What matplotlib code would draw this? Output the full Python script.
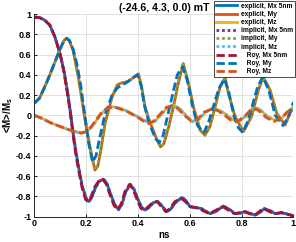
import matplotlib
matplotlib.use("Agg")
import matplotlib.pyplot as plt

plt.rcParams['font.family'] = ['Liberation Sans', 'DejaVu Sans']
plt.rcParams['font.weight'] = 'bold'
plt.rcParams['axes.unicode_minus'] = False

# explicit / implicit solver (curves overlap)
t_mx = [0, 0.02, 0.04, 0.06, 0.08, 0.1, 0.115, 0.13, 0.14, 0.15, 0.16, 0.17, 0.185, 0.2, 0.21,
        0.22, 0.235, 0.25, 0.267, 0.28, 0.295, 0.31, 0.325, 0.338, 0.352, 0.37, 0.385, 0.4,
        0.415, 0.428, 0.442, 0.46, 0.477, 0.495, 0.51, 0.525, 0.545, 0.57, 0.585, 0.6, 0.625,
        0.645, 0.678, 0.7, 0.73, 0.755, 0.775, 0.795, 0.813, 0.832, 0.852, 0.87, 0.888, 0.91,
        0.93, 0.955, 0.985, 1.0]
mx = [0.97, 0.965, 0.94, 0.89, 0.77, 0.6, 0.43, 0.2, 0.02, -0.18, -0.35, -0.5, -0.7, -0.82, -0.85,
      -0.82, -0.72, -0.65, -0.63, -0.67, -0.78, -0.88, -0.93, -0.88, -0.76, -0.68, -0.73, -0.83,
      -0.91, -0.935, -0.91, -0.86, -0.85, -0.9, -0.95, -0.93, -0.86, -0.81, -0.84, -0.9, -0.91,
      -0.92, -0.97, -0.95, -0.895, -0.93, -0.97, -0.965, -0.95, -0.965, -0.985, -0.96, -0.92, -0.94,
      -0.97, -0.96, -0.98, -0.99]

t_my = [0, 0.02, 0.04, 0.06, 0.08, 0.1, 0.115, 0.125, 0.135, 0.15, 0.17, 0.19, 0.205, 0.22, 0.234,
        0.245, 0.255, 0.273, 0.3, 0.32, 0.337, 0.357, 0.376, 0.402, 0.415, 0.427, 0.44, 0.453,
        0.47, 0.487, 0.5, 0.52, 0.537, 0.556, 0.575, 0.595, 0.614, 0.64, 0.659, 0.678, 0.698,
        0.717, 0.737, 0.749, 0.775, 0.807, 0.839, 0.865, 0.884, 0.91, 0.936, 0.968, 0.987, 1.0]
my = [0.12, 0.17, 0.28, 0.4, 0.53, 0.66, 0.74, 0.76, 0.74, 0.64, 0.38, 0.05, -0.18, -0.38, -0.54,
      -0.5, -0.37, -0.08, 0.18, 0.3, 0.32, 0.33, 0.36, 0.41, 0.27, 0.085, -0.02, -0.11,
      -0.22, -0.31, -0.28, -0.1, 0.085, 0.32, 0.51, 0.32, 0.085, -0.145, -0.195, -0.11, 0.085,
      0.28, 0.37, 0.22, -0.01, -0.16, -0.01, 0.25, 0.38, 0.25, 0.02, -0.095, 0.02, 0.08]

t_mz = [0, 0.03, 0.06, 0.09, 0.12, 0.15, 0.18, 0.2, 0.22, 0.24, 0.26, 0.28, 0.3, 0.325, 0.36,
        0.4, 0.425, 0.445, 0.465, 0.49, 0.515, 0.537, 0.56, 0.585, 0.61, 0.635, 0.66, 0.69,
        0.715, 0.74, 0.765, 0.79, 0.82, 0.846, 0.87, 0.9, 0.93, 0.955, 0.98, 1.0]
mz = [0.0, -0.03, -0.07, -0.1, -0.13, -0.155, -0.175, -0.165, -0.12, -0.05, 0.02, 0.065, 0.085,
      0.075, 0.04, -0.015, -0.05, -0.075, -0.06, 0.01, 0.08, 0.1, 0.07, 0.0, -0.06, -0.04, 0.03,
      0.07, 0.05, 0.01, -0.04, -0.06, 0.0, 0.08, 0.06, -0.01, -0.05, -0.03, 0.04, 0.08]

# Roy solver
t_roy_mx = [0, 0.02, 0.04, 0.06, 0.08, 0.1, 0.115, 0.13, 0.14, 0.15, 0.16, 0.17, 0.185, 0.198,
            0.207, 0.218, 0.232, 0.248, 0.264, 0.278, 0.293, 0.308, 0.322, 0.336, 0.35, 0.368,
            0.383, 0.398, 0.412, 0.426, 0.44, 0.458, 0.475, 0.493, 0.508, 0.523, 0.543, 0.567,
            0.583, 0.598, 0.622, 0.643, 0.675, 0.698, 0.727, 0.752, 0.772, 0.793, 0.81, 0.83,
            0.85, 0.868, 0.885, 0.908, 0.928, 0.953, 0.983, 1.0]
roy_mx = [0.97, 0.965, 0.94, 0.89, 0.77, 0.6, 0.42, 0.18, 0.0, -0.2, -0.38, -0.53, -0.72, -0.83,
          -0.85, -0.81, -0.71, -0.65, -0.63, -0.68, -0.79, -0.89, -0.93, -0.87, -0.75, -0.68,
          -0.74, -0.84, -0.92, -0.935, -0.9, -0.86, -0.85, -0.91, -0.95, -0.92, -0.85, -0.82,
          -0.85, -0.9, -0.91, -0.93, -0.97, -0.94, -0.9, -0.94, -0.97, -0.96, -0.95, -0.97,
          -0.985, -0.95, -0.92, -0.95, -0.97, -0.96, -0.98, -0.99]

t_roy_my = [0, 0.02, 0.04, 0.06, 0.08, 0.1, 0.115, 0.125, 0.135, 0.15, 0.165, 0.18, 0.195, 0.21,
            0.225, 0.238, 0.25, 0.27, 0.3, 0.32, 0.34, 0.36, 0.38, 0.398, 0.412, 0.425, 0.44,
            0.455, 0.468, 0.482, 0.497, 0.515, 0.535, 0.552, 0.572, 0.59, 0.61, 0.63, 0.655,
            0.675, 0.695, 0.712, 0.733, 0.75, 0.77, 0.787, 0.805, 0.825, 0.842, 0.862, 0.882,
            0.905, 0.93, 0.96, 0.98, 1.0]
roy_my = [0.12, 0.17, 0.28, 0.4, 0.53, 0.66, 0.74, 0.76, 0.74, 0.65, 0.5, 0.28, 0.0, -0.28,
          -0.46, -0.4, -0.25, -0.02, 0.2, 0.27, 0.3, 0.33, 0.37, 0.4, 0.3, 0.1, -0.05, -0.15,
          -0.23, -0.27, -0.2, 0.0, 0.22, 0.4, 0.48, 0.35, 0.1, -0.1, -0.17, -0.05, 0.12, 0.26,
          0.36, 0.24, 0.0, -0.12, -0.17, -0.05, 0.1, 0.28, 0.38, 0.25, 0.0, -0.1, -0.02, 0.13]

t_roy_mz = [0, 0.03, 0.06, 0.09, 0.12, 0.15, 0.18, 0.2, 0.22, 0.24, 0.26, 0.28, 0.3, 0.325,
            0.36, 0.4, 0.42, 0.44, 0.46, 0.485, 0.51, 0.532, 0.555, 0.58, 0.605, 0.63, 0.655,
            0.685, 0.71, 0.735, 0.76, 0.785, 0.815, 0.842, 0.865, 0.895, 0.925, 0.95, 0.975, 1.0]
roy_mz = [0.0, -0.03, -0.07, -0.1, -0.13, -0.155, -0.175, -0.16, -0.11, -0.04, 0.03, 0.07, 0.08,
          0.07, 0.035, -0.02, -0.055, -0.08, -0.06, 0.01, 0.08, 0.095, 0.065, 0.0, -0.055, -0.04,
          0.03, 0.065, 0.045, 0.0, -0.05, -0.06, 0.0, 0.07, 0.05, -0.02, -0.06, -0.03, 0.03, 0.06]

BLUE, ORANGE, YELLOW = '#0072BD', '#D95319', '#EDB120'
PURPLE, GREEN, CYAN, DRED = '#7E2F8E', '#77AC30', '#4DBEEE', '#A2142F'

fig = plt.figure(figsize=(2.96, 2.42), dpi=100)
ax = fig.add_axes([0.116, 0.1045, 0.875, 0.8375])

lw = 2.0
ax.plot(t_mx, mx, color=BLUE, lw=lw, label='explicit, Mx 5nm')
ax.plot(t_my, my, color=ORANGE, lw=lw, label='explicit, My')
ax.plot(t_mz, mz, color=YELLOW, lw=lw, label='explicit, Mz')
ax.plot(t_mx, mx, color=PURPLE, lw=lw, dashes=(1, 1), label='implicit, Mx 5nm')
ax.plot(t_my, my, color=GREEN, lw=lw, dashes=(1, 1), label='implicit, My')
ax.plot(t_mz, mz, color=CYAN, lw=lw, dashes=(1, 1), label='implicit, Mz')
ax.plot(t_roy_mx, roy_mx, color=DRED, lw=lw, dashes=(3, 1.3), label='   Roy, Mx 5nm')
ax.plot(t_roy_my, roy_my, color=BLUE, lw=lw, dashes=(3, 1.3), label='   Roy, My')
ax.plot(t_roy_mz, roy_mz, color=ORANGE, lw=lw, dashes=(3, 1.3), label='   Roy, Mz')

ax.set_xlim(0, 1)
ax.set_ylim(-1, 1)
xt = [0, 0.2, 0.4, 0.6, 0.8, 1]
yt = [-1, -0.8, -0.6, -0.4, -0.2, 0, 0.2, 0.4, 0.6, 0.8, 1]
ax.set_xticks(xt)
ax.set_xticklabels(['0', '0.2', '0.4', '0.6', '0.8', '1'])
ax.set_yticks(yt)
ax.set_yticklabels(['-1', '-0.8', '-0.6', '-0.4', '-0.2', '0', '0.2', '0.4', '0.6', '0.8', '1'])
ax.tick_params(direction='in', length=2, width=0.6, labelsize=6.5, pad=2)
ax.grid(True, color='#dcdcdc', lw=0.6)
ax.set_axisbelow(True)
for s in ['top', 'right']:
    ax.spines[s].set_visible(False)
for s in ['left', 'bottom']:
    ax.spines[s].set_linewidth(0.7)
    ax.spines[s].set_color('#262626')

ax.set_xlabel('ns', fontsize=7, fontweight='bold', labelpad=1)
ax.set_ylabel(r'<M>/M$_\mathregular{s}$', fontsize=7, fontweight='bold', labelpad=1)
ax.set_title('(-24.6, 4.3, 0.0) mT', fontsize=7.6, fontweight='bold', pad=2)

leg = ax.legend(loc='upper right', bbox_to_anchor=(1.0, 1.0), bbox_transform=fig.transFigure,
                fontsize=4.8, labelspacing=0.18, handlelength=3.2, handletextpad=0.6,
                borderpad=0.3, borderaxespad=0.1, fancybox=False, framealpha=1)
leg.get_frame().set_edgecolor('black')
leg.get_frame().set_linewidth(0.5)

fig.savefig('out.png', dpi=100)
